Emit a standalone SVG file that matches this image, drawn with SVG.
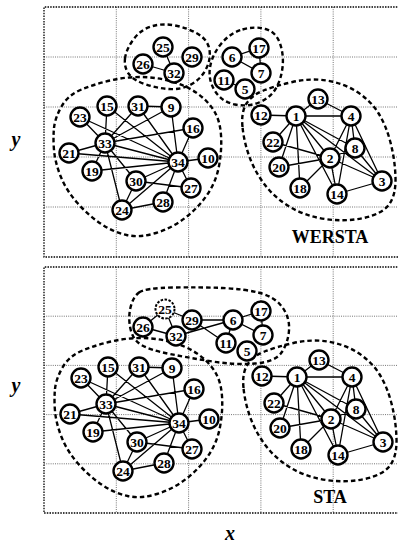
<svg xmlns="http://www.w3.org/2000/svg" width="398" height="547" viewBox="0 0 398 547">
<style>
.frame{stroke:#000;stroke-width:1.3;stroke-dasharray:1.5 1.2;fill:none}
.grid{stroke:#666;stroke-width:0.9;stroke-dasharray:1 1.2;fill:none}
.clu{stroke:#000;stroke-width:2.4;stroke-dasharray:4.5 3;fill:none}
.e{stroke:#000;stroke-width:1.3;fill:none}
.n circle{fill:#fff;stroke:#000;stroke-width:2.4}
.n.d circle{stroke-dasharray:2.5 1.5;stroke-width:2}
.n text{font-family:"Liberation Serif",serif;font-weight:bold;font-size:13.5px;text-anchor:middle}
.lab{font-family:"Liberation Serif",serif;font-weight:bold;font-size:18px;text-anchor:middle}
.ax{font-family:"Liberation Serif",serif;font-weight:bold;font-style:italic;font-size:20px;text-anchor:middle}
</style>
<defs>
<path id="cC" d="M54,128 Q55,118 61.5,106.5 Q68,95 81.5,89.5 Q95,84 110,80.5 Q125,77 140,77 Q155,77 170,81 Q185,85 196,92.5 Q207,100 213.5,110 Q220,120 221,135 Q222,150 219,166 Q216,182 207,195 Q198,208 185,218 Q172,228 156,233 Q140,238 126.5,235 Q113,232 100.5,223.5 Q88,215 77,202.5 Q66,190 60.5,176 Q55,162 54,150 Q53,138 54,128 Z"/>
<path id="cD" d="M242.5,127 Q241,112 246.5,103.5 Q252,95 263.5,90.5 Q275,86 292.5,82 Q310,78 326.5,80.5 Q343,83 356.5,91.5 Q370,100 378,112.5 Q386,125 390.5,142.5 Q395,160 395.5,177.5 Q396,195 389,204.5 Q382,214 363.5,218 Q345,222 325,219 Q305,216 290,207 Q275,198 265,185 Q255,172 249.5,157 Q244,142 242.5,127 Z"/>
</defs>

<!-- frames and grids -->
<g id="frames">
<path class="grid" d="M116.3,7V257M188.6,7V257M260.9,7V257M333.2,7V257M44,57H400M44,107H400M44,157H400M44,207H400"/>
<path class="frame" d="M400,7H44V257H400"/>
<path class="grid" d="M116.3,267V513M188.6,267V513M260.9,267V513M333.2,267V513M44,316.2H400M44,365.4H400M44,414.6H400M44,463.8H400"/>
<path class="frame" d="M400,267H44V513H400"/>
</g>

<!-- cluster boundaries -->
<g id="clusters">
<path class="clu" d="M125,58.5 Q126,50 133,40 Q140,30 151,26.5 Q162,23 175,25.5 Q188,28 198,34 Q208,40 209.5,50 Q211,60 205.5,70 Q200,80 190,85 Q180,90 168,89 Q156,88 144.5,84 Q133,80 128.5,73.5 Q124,67 125,58.5 Z"/>
<path class="clu" d="M242.5,29.5 Q255,26 265.5,29 Q276,32 280,43.5 Q284,55 282.5,67.5 Q281,80 275.5,89 Q270,98 259,102.5 Q248,107 235,104.5 Q222,102 215,91 Q208,80 210,67.5 Q212,55 221,44 Q230,33 242.5,29.5 Z"/>
<use href="#cC" class="clu"/>
<use href="#cD" class="clu"/>
<path class="clu" d="M139,292.5 Q145,288 172.5,287.5 Q200,287 222.5,288 Q245,289 260,293 Q275,297 282.5,307.5 Q290,318 289,330.5 Q288,343 281.5,352.5 Q275,362 255,363.5 Q235,365 212.5,361.5 Q190,358 170,354 Q150,350 141.5,345 Q133,340 130.5,329 Q128,318 130.5,307.5 Q133,297 139,292.5 Z"/>
<use href="#cC" class="clu" transform="translate(1,261)"/>
<use href="#cD" class="clu" transform="translate(1,261)"/>
</g>

<!-- connectors -->
<g id="connectors">
<path id="edgesCD" class="e" d="
M171,107L138,106 M171,107L105,143 M171,107L178,162 M208,158L178,162
M107,106L105,143 M107,106L178,162 M193,128L105,143 M193,128L178,162
M92,171L105,143 M92,171L178,162 M69,153L105,143 M69,153L178,162
M80,117L105,143 M80,117L178,162 M122,210L163,202 M122,210L136,181
M122,210L105,143 M122,210L178,162 M191,188L136,181 M191,188L178,162
M163,202L178,162 M136,181L105,143 M136,181L178,162 M138,106L105,143
M138,106L178,162 M105,143L178,162
M296,116L330,158 M296,116L382,181 M296,116L351,116 M296,116L355,148
M296,116L261,115 M296,116L318,99 M296,116L337,194 M296,116L300,188
M296,116L279,167 M296,116L273,142 M330,158L382,181 M330,158L351,116
M330,158L355,148 M330,158L337,194 M330,158L300,188 M330,158L279,167
M330,158L273,142 M382,181L351,116 M382,181L355,148 M382,181L337,194
M351,116L355,148 M351,116L318,99 M351,116L337,194"/>
<path class="e" d="M163,47L174,73 M143,64L174,73 M232,57L259,48 M232,57L261,73 M259,48L261,73 M224,80L245,89"/>
<use href="#edgesCD" transform="translate(1,261)"/>
<path class="e" d="M165,309L143,327 M165,309L176,336 M165,309L192,320 M143,327L176,336 M192,320L233,320 M192,320L226,343 M176,336L233,320 M233,320L226,343 M233,320L261,311 M233,320L263,335 M261,311L263,335"/>
</g>

<!-- top panel nodes -->
<g id="top-nodes">
<g id="t25" class="n"><circle cx="163" cy="47" r="9.5"/><text x="163" y="51.7">25</text></g>
<g id="t29" class="n"><circle cx="192" cy="57" r="9.5"/><text x="192" y="61.7">29</text></g>
<g id="t26" class="n"><circle cx="143" cy="64" r="9.5"/><text x="143" y="68.7">26</text></g>
<g id="t32" class="n"><circle cx="174" cy="73" r="9.5"/><text x="174" y="77.7">32</text></g>
<g id="t6" class="n"><circle cx="232" cy="57" r="9.5"/><text x="232" y="61.7">6</text></g>
<g id="t17" class="n"><circle cx="259" cy="48" r="9.5"/><text x="259" y="52.7">17</text></g>
<g id="t7" class="n"><circle cx="261" cy="73" r="9.5"/><text x="261" y="77.7">7</text></g>
<g id="t11" class="n"><circle cx="224" cy="80" r="9.5"/><text x="224" y="84.7">11</text></g>
<g id="t5" class="n"><circle cx="245" cy="89" r="9.5"/><text x="245" y="93.7">5</text></g>
<g id="t15" class="n"><circle cx="107" cy="106" r="9.5"/><text x="107" y="110.7">15</text></g>
<g id="t31" class="n"><circle cx="138" cy="106" r="9.5"/><text x="138" y="110.7">31</text></g>
<g id="t9" class="n"><circle cx="171" cy="107" r="9.5"/><text x="171" y="111.7">9</text></g>
<g id="t23" class="n"><circle cx="80" cy="117" r="9.5"/><text x="80" y="121.7">23</text></g>
<g id="t16" class="n"><circle cx="193" cy="128" r="9.5"/><text x="193" y="132.7">16</text></g>
<g id="t33" class="n"><circle cx="105" cy="143" r="9.5"/><text x="105" y="147.7">33</text></g>
<g id="t21" class="n"><circle cx="69" cy="153" r="9.5"/><text x="69" y="157.7">21</text></g>
<g id="t34" class="n"><circle cx="178" cy="162" r="9.5"/><text x="178" y="166.7">34</text></g>
<g id="t10" class="n"><circle cx="208" cy="158" r="9.5"/><text x="208" y="162.7">10</text></g>
<g id="t19" class="n"><circle cx="92" cy="171" r="9.5"/><text x="92" y="175.7">19</text></g>
<g id="t30" class="n"><circle cx="136" cy="181" r="9.5"/><text x="136" y="185.7">30</text></g>
<g id="t27" class="n"><circle cx="191" cy="188" r="9.5"/><text x="191" y="192.7">27</text></g>
<g id="t28" class="n"><circle cx="163" cy="202" r="9.5"/><text x="163" y="206.7">28</text></g>
<g id="t24" class="n"><circle cx="122" cy="210" r="9.5"/><text x="122" y="214.7">24</text></g>
<g id="t13" class="n"><circle cx="318" cy="99" r="9.5"/><text x="318" y="103.7">13</text></g>
<g id="t12" class="n"><circle cx="261" cy="115" r="9.5"/><text x="261" y="119.7">12</text></g>
<g id="t1" class="n"><circle cx="296" cy="116" r="9.5"/><text x="296" y="120.7">1</text></g>
<g id="t4" class="n"><circle cx="351" cy="116" r="9.5"/><text x="351" y="120.7">4</text></g>
<g id="t22" class="n"><circle cx="273" cy="142" r="9.5"/><text x="273" y="146.7">22</text></g>
<g id="t8" class="n"><circle cx="355" cy="148" r="9.5"/><text x="355" y="152.7">8</text></g>
<g id="t2" class="n"><circle cx="330" cy="158" r="9.5"/><text x="330" y="162.7">2</text></g>
<g id="t20" class="n"><circle cx="279" cy="167" r="9.5"/><text x="279" y="171.7">20</text></g>
<g id="t3" class="n"><circle cx="382" cy="181" r="9.5"/><text x="382" y="185.7">3</text></g>
<g id="t18" class="n"><circle cx="300" cy="188" r="9.5"/><text x="300" y="192.7">18</text></g>
<g id="t14" class="n"><circle cx="337" cy="194" r="9.5"/><text x="337" y="198.7">14</text></g>
</g>

<!-- bottom panel nodes -->
<g id="bottom-nodes">
<g id="b25" class="n d"><circle cx="165" cy="309" r="9.5"/><text x="165" y="313.7">25</text></g>
<g id="b29" class="n"><circle cx="192" cy="320" r="9.5"/><text x="192" y="324.7">29</text></g>
<g id="b26" class="n"><circle cx="143" cy="327" r="9.5"/><text x="143" y="331.7">26</text></g>
<g id="b32" class="n"><circle cx="176" cy="336" r="9.5"/><text x="176" y="340.7">32</text></g>
<g id="b6" class="n"><circle cx="233" cy="320" r="9.5"/><text x="233" y="324.7">6</text></g>
<g id="b17" class="n"><circle cx="261" cy="311" r="9.5"/><text x="261" y="315.7">17</text></g>
<g id="b7" class="n"><circle cx="263" cy="335" r="9.5"/><text x="263" y="339.7">7</text></g>
<g id="b11" class="n"><circle cx="226" cy="343" r="9.5"/><text x="226" y="347.7">11</text></g>
<g id="b5" class="n"><circle cx="247" cy="351" r="9.5"/><text x="247" y="355.7">5</text></g>
<g transform="translate(1,261)">
<g id="b15" class="n"><circle cx="107" cy="106" r="9.5"/><text x="107" y="110.7">15</text></g>
<g id="b31" class="n"><circle cx="138" cy="106" r="9.5"/><text x="138" y="110.7">31</text></g>
<g id="b9" class="n"><circle cx="171" cy="107" r="9.5"/><text x="171" y="111.7">9</text></g>
<g id="b23" class="n"><circle cx="80" cy="117" r="9.5"/><text x="80" y="121.7">23</text></g>
<g id="b16" class="n"><circle cx="193" cy="128" r="9.5"/><text x="193" y="132.7">16</text></g>
<g id="b33" class="n"><circle cx="105" cy="143" r="9.5"/><text x="105" y="147.7">33</text></g>
<g id="b21" class="n"><circle cx="69" cy="153" r="9.5"/><text x="69" y="157.7">21</text></g>
<g id="b34" class="n"><circle cx="178" cy="162" r="9.5"/><text x="178" y="166.7">34</text></g>
<g id="b10" class="n"><circle cx="208" cy="158" r="9.5"/><text x="208" y="162.7">10</text></g>
<g id="b19" class="n"><circle cx="92" cy="171" r="9.5"/><text x="92" y="175.7">19</text></g>
<g id="b30" class="n"><circle cx="136" cy="181" r="9.5"/><text x="136" y="185.7">30</text></g>
<g id="b27" class="n"><circle cx="191" cy="188" r="9.5"/><text x="191" y="192.7">27</text></g>
<g id="b28" class="n"><circle cx="163" cy="202" r="9.5"/><text x="163" y="206.7">28</text></g>
<g id="b24" class="n"><circle cx="122" cy="210" r="9.5"/><text x="122" y="214.7">24</text></g>
<g id="b13" class="n"><circle cx="318" cy="99" r="9.5"/><text x="318" y="103.7">13</text></g>
<g id="b12" class="n"><circle cx="261" cy="115" r="9.5"/><text x="261" y="119.7">12</text></g>
<g id="b1" class="n"><circle cx="296" cy="116" r="9.5"/><text x="296" y="120.7">1</text></g>
<g id="b4" class="n"><circle cx="351" cy="116" r="9.5"/><text x="351" y="120.7">4</text></g>
<g id="b22" class="n"><circle cx="273" cy="142" r="9.5"/><text x="273" y="146.7">22</text></g>
<g id="b8" class="n"><circle cx="355" cy="148" r="9.5"/><text x="355" y="152.7">8</text></g>
<g id="b2" class="n"><circle cx="330" cy="158" r="9.5"/><text x="330" y="162.7">2</text></g>
<g id="b20" class="n"><circle cx="279" cy="167" r="9.5"/><text x="279" y="171.7">20</text></g>
<g id="b3" class="n"><circle cx="382" cy="181" r="9.5"/><text x="382" y="185.7">3</text></g>
<g id="b18" class="n"><circle cx="300" cy="188" r="9.5"/><text x="300" y="192.7">18</text></g>
<g id="b14" class="n"><circle cx="337" cy="194" r="9.5"/><text x="337" y="198.7">14</text></g>
</g>
</g>

<!-- labels -->
<g id="labels">
<text class="lab" x="330" y="243">WERSTA</text>
<text class="lab" x="330" y="503">STA</text>
<text class="ax" x="16" y="146">y</text>
<text class="ax" x="16" y="392">y</text>
<text class="ax" x="230" y="540">x</text>
</g>
</svg>
